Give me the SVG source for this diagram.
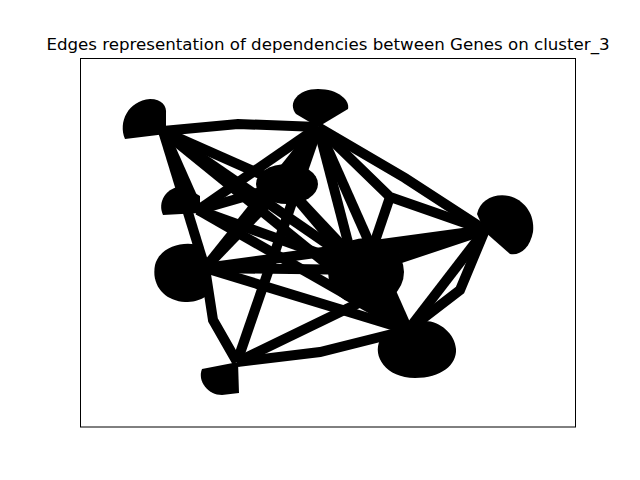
<svg xmlns="http://www.w3.org/2000/svg" width="640" height="480" viewBox="0 0 640 480">
<style>
.e{fill:none;stroke:#000;stroke-width:10;stroke-linejoin:miter;stroke-linecap:butt}
.n{fill:#000;stroke:none}
.t{font-family:"DejaVu Sans",sans-serif;font-size:16.67px;fill:#000}
</style>
<rect width="640" height="480" fill="#fff"/>
<text class="t" x="328" y="50" text-anchor="middle">Edges representation of dependencies between Genes on cluster_3</text>
<g id="edges">
<polyline class="e" points="163,131 238,124 318,127"/>
<line class="e" x1="163" y1="131" x2="198" y2="210"/>
<line class="e" x1="163" y1="131" x2="205" y2="268"/>
<line class="e" x1="163" y1="131" x2="285" y2="185"/>
<line class="e" x1="163" y1="131" x2="365" y2="270"/>
<line class="e" x1="163" y1="131" x2="408" y2="330"/>
<line class="e" x1="318" y1="127" x2="198" y2="210"/>
<line class="e" x1="318" y1="127" x2="205" y2="268"/>
<line class="e" x1="318" y1="127" x2="237" y2="362"/>
<line class="e" x1="318" y1="127" x2="285" y2="185"/>
<line class="e" x1="318" y1="127" x2="350" y2="250"/>
<line class="e" x1="318" y1="127" x2="408" y2="330"/>
<polyline class="e" points="318,127 405,178 485,230"/>
<polyline class="e" points="318,127 390,197 485,230"/>
<line class="e" x1="390" y1="197" x2="372" y2="250"/>
<line class="e" x1="198" y1="210" x2="285" y2="185"/>
<line class="e" x1="198" y1="210" x2="365" y2="270"/>
<line class="e" x1="198" y1="210" x2="408" y2="330"/>
<line class="e" x1="285" y1="185" x2="205" y2="268"/>
<line class="e" x1="285" y1="185" x2="365" y2="270"/>
<line class="e" x1="285" y1="185" x2="408" y2="330"/>
<line class="e" x1="205" y1="268" x2="365" y2="270"/>
<line class="e" x1="205" y1="268" x2="485" y2="230"/>
<line class="e" x1="205" y1="268" x2="408" y2="330"/>
<polyline class="e" points="205,268 213,320 237,362"/>
<line class="e" x1="365" y1="270" x2="485" y2="230"/>
<line class="e" x1="340" y1="262" x2="485" y2="230"/>
<line class="e" x1="365" y1="270" x2="408" y2="330"/>
<line class="e" x1="237" y1="362" x2="365" y2="300"/>
<polyline class="e" points="237,362 320,352 408,330"/>
<polyline class="e" points="408,330 460,290 485,230"/>
<line class="e" x1="485" y1="230" x2="408" y2="330"/>
</g>
<g id="nodeA"><path class="n" d="M166,134 L125,139 C118,122 128,101 150,99 C162,99 167,106 166,114 Z"/></g>
<g id="nodeB"><path class="n" d="M318,127 L296,114 C287,103 298,89 318,89 C338,89 350,100 348,109 Z"/></g>
<g id="nodeC"><path class="n" d="M200,213 L163,215 C157,202 166,187 183,186 L200,196 Z"/></g>
<g id="nodeD"><ellipse class="n" cx="287" cy="184" rx="31" ry="20"/></g>
<g id="nodeE"><path class="n" d="M207,270 L201,246 C185,240 160,246 155,265 C151,286 165,301 185,302 C200,302 211,296 211,286 Z"/></g>
<g id="nodeF"><path class="n" d="M485,232 L477,214 C480,200 494,193 509,196 C525,200 535,215 533,232 C530,248 520,256 510,254 Z"/></g>
<g id="nodeG"><ellipse class="n" cx="366" cy="272" rx="38" ry="34"/></g>
<g id="nodeH"><path class="n" d="M408,330 L380,340 C372,356 386,378 415,378 C441,378 457,365 456,349 C455,334 440,321 425,321 Z"/></g>
<g id="nodeI"><path class="n" d="M238,362 L202,369 C197,381 208,395 222,395 L239,393 Z"/></g>
<rect x="80.5" y="58.5" width="495" height="368.5" fill="none" stroke="#000" stroke-width="1"/>
</svg>
